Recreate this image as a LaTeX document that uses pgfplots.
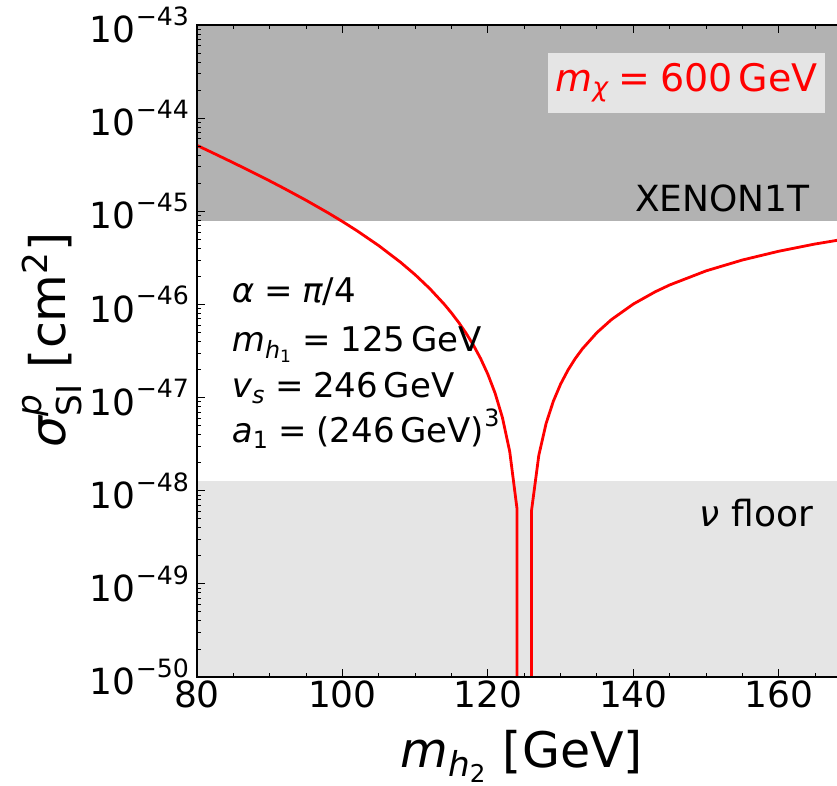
\documentclass[border=0pt]{standalone}
\usepackage{amsmath}
\usepackage{fontspec}
\setmainfont{DejaVu Sans}
\usepackage{pgfplots}
\pgfplotsset{compat=1.18}
\definecolor{xen}{gray}{0.70}
\definecolor{nufl}{gray}{0.90}
\newcommand{\tx}[1]{\text{#1}}
\newcommand{\ti}[1]{\text{\itshape #1}}
\begin{document}
\begin{tikzpicture}
\begin{axis}[
  at={(0,0)}, anchor=south west,
  scale only axis, width=327.27pt, height=326pt,
  xmin=80, xmax=170, ymode=log, ymin=1e-50, ymax=1e-43,
  axis on top,
  axis line style={line width=0.8pt},
  tick align=inside,
  major tick length=4pt, minor tick length=2pt,
  every tick/.style={black, line width=0.5pt},
  xtick={80,100,120,140,160},
  xticklabels={80,100,120,140,160},
  minor xtick={85,90,95,105,110,115,125,130,135,145,150,155,165,170},
  ytick={1e-50,1e-49,1e-48,1e-47,1e-46,1e-45,1e-44,1e-43},
  yticklabels={$\tx{10}^{\tx{−50}}$,$\tx{10}^{\tx{−49}}$,$\tx{10}^{\tx{−48}}$,$\tx{10}^{\tx{−47}}$,$\tx{10}^{\tx{−46}}$,$\tx{10}^{\tx{−45}}$,$\tx{10}^{\tx{−44}}$,$\tx{10}^{\tx{−43}}$},
  minor ytick={2e-50,3e-50,4e-50,5e-50,6e-50,7e-50,8e-50,9e-50,
               2e-49,3e-49,4e-49,5e-49,6e-49,7e-49,8e-49,9e-49,
               2e-48,3e-48,4e-48,5e-48,6e-48,7e-48,8e-48,9e-48,
               2e-47,3e-47,4e-47,5e-47,6e-47,7e-47,8e-47,9e-47,
               2e-46,3e-46,4e-46,5e-46,6e-46,7e-46,8e-46,9e-46,
               2e-45,3e-45,4e-45,5e-45,6e-45,7e-45,8e-45,9e-45,
               2e-44,3e-44,4e-44,5e-44,6e-44,7e-44,8e-44,9e-44},
  tick label style={font=\fontsize{18}{21}\selectfont},
  xticklabel style={yshift=1.5pt},
]
\addplot[draw=none, fill=xen] coordinates {(79,7.8e-46) (171,7.8e-46) (171,1e-43) (79,1e-43)} -- cycle;
\addplot[draw=none, fill=nufl] coordinates {(79,1e-50) (171,1e-50) (171,1.26e-48) (79,1.26e-48)} -- cycle;
\addplot[red, line width=1.4pt] coordinates {
(80,5.106e-45) (82,4.307e-45) (85,3.322e-45) (88,2.545e-45) (90,2.121e-45)
(92,1.759e-45) (95,1.314e-45) (98,9.659e-46) (100,7.776e-46) (102,6.189e-46)
(105,4.278e-46) (108,2.834e-46) (110,2.086e-46) (112,1.4825e-46) (114,1.0057e-46)
(115,8.093e-47) (116,6.385e-47) (117,4.915e-47) (118,3.667e-47) (119,2.626e-47)
(120,1.778e-47) (121,1.110e-47) (122,6.09e-48) (123,2.64e-48) (124,6.44e-49)
(124,1e-52) (126,1e-52)
(126,6.14e-49) (127,2.40e-48) (128,5.27e-48) (129,9.16e-48) (130,1.399e-47)
(131,1.969e-47) (132,2.620e-47) (133,3.345e-47) (135,5.00e-47) (137,6.896e-47)
(140,1.011e-46) (143,1.368e-46) (145,1.621e-46) (150,2.295e-46) (155,3.004e-46)
(160,3.731e-46) (165,4.462e-46) (170,5.185e-46)};
\end{axis}
% annotations
\node[fill=nufl, text=red, minimum width=138.5pt, minimum height=30pt, inner sep=0pt,
      font=\fontsize{19}{22}\selectfont, anchor=center] at (244.75pt,297pt)
  {$\ti{m}_{\ti{χ}}\mathrel{\tx{=}}\tx{600\,GeV}$};
\node[anchor=base east, inner sep=0pt, font=\fontsize{18}{21}\selectfont] at (306.5pt,232.5pt) {XENON1T};
\node[anchor=base east, inner sep=0pt, font=\fontsize{18}{21}\selectfont] at (308.2pt,75.2pt) {$\ti{ν}$\ floor};
\begin{scope}[every node/.style={anchor=base west, font=\fontsize{17}{20}\selectfont, inner sep=0pt}]
\node at (17.3pt,187pt) {$\ti{α}\mathrel{\tx{=}}\ti{π}\tx{/4}$};
\node at (17.3pt,162.5pt) {$\ti{m}_{\ti{h}_{\tx{1}}}\mathrel{\tx{=}}\tx{125\,GeV}$};
\node at (17.3pt,139.5pt) {$\ti{v}_{\ti{s}}\mathrel{\tx{=}}\tx{246\,GeV}$};
\node at (17.3pt,117pt) {$\ti{a}_{\tx{1}}\mathrel{\tx{=}}\tx{(246\,GeV)}^{\tx{3}}$};
\end{scope}
\node[anchor=base, font=\fontsize{24.5}{28}\selectfont] at (162.3pt,-45.3pt)
  {$\ti{m}_{\ti{h}_{\tx{2}}}$\ [GeV]};
\node[rotate=90, anchor=center, font=\fontsize{24.5}{28}\selectfont] at (-72.5pt,168.5pt)
  {$\ti{σ}^{\ti{p}}_{\tx{SI}}$\ [cm$^{\tx{2}}$]};
\pgfresetboundingbox
\path[use as bounding box] (-98.5pt,-54.5pt) rectangle (320pt,338.5pt);
\end{tikzpicture}
\end{document}
